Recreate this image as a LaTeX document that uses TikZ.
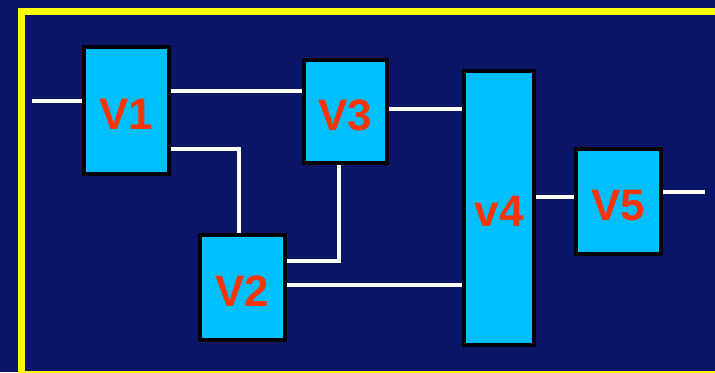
\documentclass[tikz,border=0pt]{standalone}
\usepackage{fontspec}
\setmainfont{Liberation Sans}
\usepackage{tikz}
\usetikzlibrary{calc}

\definecolor{navy}{RGB}{11,21,104}
\definecolor{boxcyan}{RGB}{0,191,255}
\definecolor{labelred}{RGB}{255,51,0}
\definecolor{frameyellow}{RGB}{255,255,0}

\begin{document}
\begin{tikzpicture}[x=0.5pt, y=-0.5pt,
    block/.style={draw=black, line width=2pt, fill=boxcyan, inner sep=0pt,
        font=\bfseries\fontsize{22}{24}\selectfont, text=labelred,
        text height=18.8pt, text depth=0pt},
    wire/.style={draw=white, line width=1.6pt}]
    \fill[navy] (0,0) rectangle (715,372);
    \useasboundingbox (0,0) rectangle (715,372);
    \begin{scope}
        \clip (0,0) rectangle (715,372);
        \draw[frameyellow, line width=3.5pt] (21.5,11) rectangle (722,374);
    \end{scope}
    \node[block, minimum width=42.5pt, minimum height=63.5pt] (V1) at (126.5,110.5) {V1};
    \node[block, minimum width=42.5pt, minimum height=52.5pt] (V2) at (242.5,287.5) {V2};
    \node[block, minimum width=41.5pt, minimum height=51.5pt] (V3) at (345.5,111.5) {V3};
    \node[block, minimum width=35pt, minimum height=137pt] (v4) at (499,208) {v4};
    \node[block, minimum width=42.5pt, minimum height=52.5pt] (V5) at (618.5,201.5) {V5};
    \coordinate (in) at (32,101);
    \coordinate (out) at (705,192);
    \draw[wire] (in) -- (V1.west |- in);
    \draw[wire] (V1.east |- 0,91) -- (V3.west |- 0,91);
    \draw[wire] (V1.east |- 0,149) -| (239,0 |- V2.north);
    \draw[wire] (339,0 |- V3.south) |- (V2.east |- 0,261);
    \draw[wire] (V3.east |- 0,109) -- (v4.west |- 0,109);
    \draw[wire] (V2.east |- 0,285) -- (v4.west |- 0,285);
    \draw[wire] (v4.east |- 0,197) -- (V5.west |- 0,197);
    \draw[wire] (V5.east |- out) -- (out);
\end{tikzpicture}
\end{document}
